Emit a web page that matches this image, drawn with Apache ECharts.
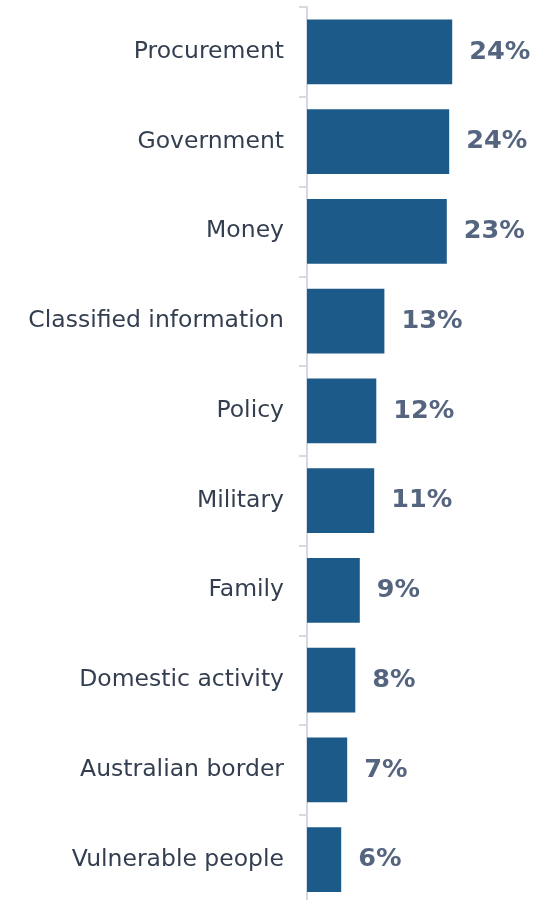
<!DOCTYPE html>
<html>
<head>
<meta charset="utf-8">
<script src="https://cdn.jsdelivr.net/npm/echarts@6/dist/echarts.min.js"></script>
<style>
html,body{margin:0;padding:0;background:#fff;}
#chart{width:536px;height:900px;}
</style>
</head>
<body>
<div id="chart"></div>
<script>
var categories = ["Procurement","Government","Money","Classified information","Policy","Military","Family","Domestic activity","Australian border","Vulnerable people"];
var values = [24.2, 23.7, 23.3, 12.9, 11.55, 11.2, 8.8, 8.05, 6.7, 5.7];
var valueLabels = ["24%","24%","23%","13%","12%","11%","9%","8%","7%","6%"];

var chart = echarts.init(document.getElementById('chart'), null, {renderer:'canvas'});
chart.setOption({
  animation: false,
  backgroundColor: '#ffffff',
  grid: {left: 307, top: 7, width: 180, bottom: -4.5, containLabel: false, outerBoundsMode: 'none'},
  xAxis: {type: 'value', min: 0, max: 30, show: false},
  yAxis: {
    type: 'category', data: categories, inverse: true,
    axisLine: {show: true, lineStyle: {color: '#d5d9e3', width: 2}},
    axisTick: {show: true, length: 8, lineStyle: {color: '#d5d9e3', width: 2}},
    axisLabel: {fontFamily: 'DejaVu Sans', fontSize: 23.5, color: '#333f50', margin: 23},
    splitLine: {show: false}
  },
  series: [{
    type: 'bar',
    data: values,
    barWidth: '72%',
    itemStyle: {color: '#1c5a8a'},
    label: {
      show: true, position: 'right', distance: 17,
      fontFamily: 'DejaVu Sans', fontWeight: 'bold', fontSize: 25.5, color: '#56657f',
      formatter: function(p){ return valueLabels[p.dataIndex]; }
    }
  }]
});
</script>
</body>
</html>
